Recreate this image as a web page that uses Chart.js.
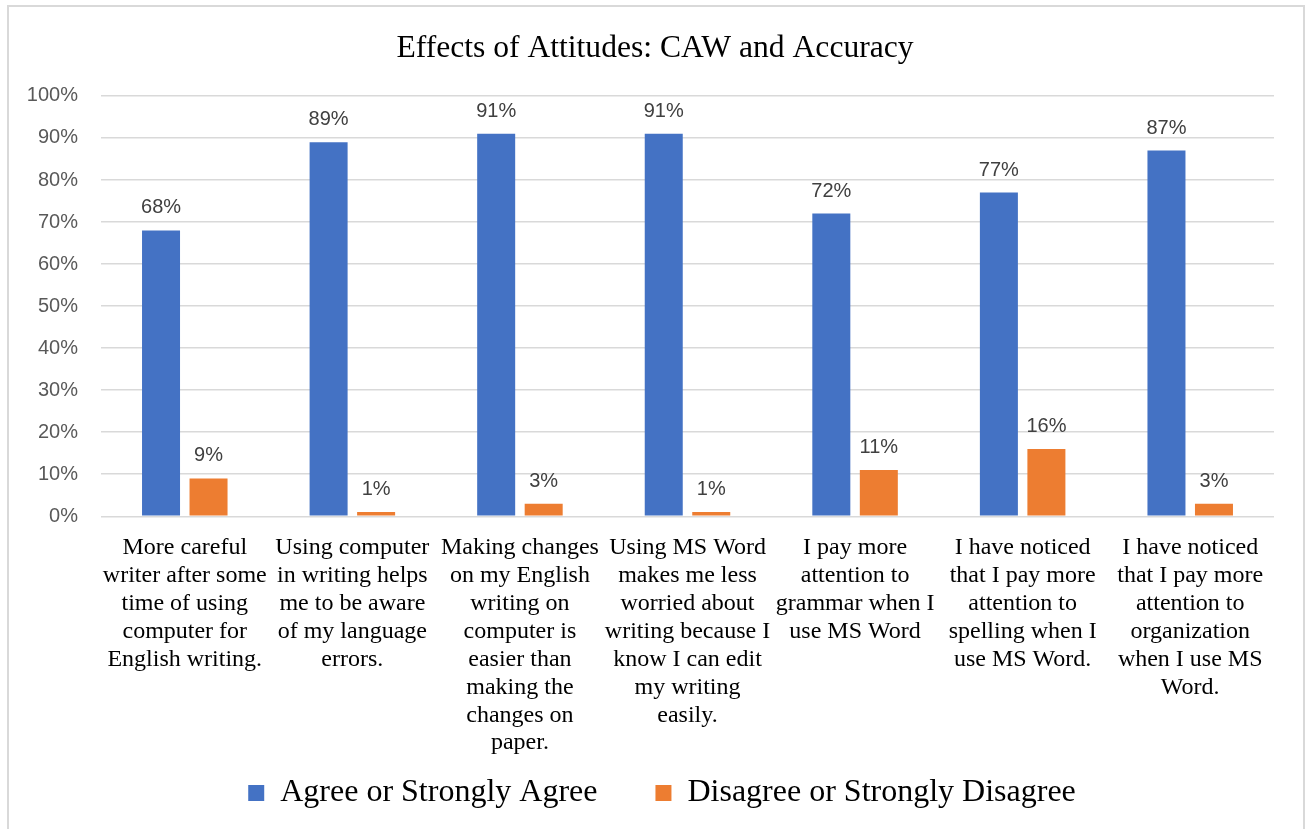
<!DOCTYPE html>
<html>
<head>
<meta charset="utf-8">
<script src="https://cdn.jsdelivr.net/npm/chart.js@4/dist/chart.umd.min.js"></script>
<style>
  html, body { margin: 0; padding: 0; background: #fff; }
  #wrap { position: absolute; left: 0; top: 0; width: 1306px; height: 829px; }
  #frame { position: absolute; left: 7px; top: 5px; width: 1294px; height: 830px;
           border: 2px solid #d9d9d9; pointer-events: none; }
</style>
</head>
<body>
<div id="wrap">
  <canvas id="attitudeChart" width="1306" height="829"></canvas>
  <div id="frame"></div>
</div>
<script>
// ---- data ----
const categories = [
  ['More careful', 'writer after some', 'time of using', 'computer for', 'English writing.'],
  ['Using computer', 'in writing helps', 'me to be aware', 'of my language', 'errors.'],
  ['Making changes', 'on my English', 'writing on', 'computer is', 'easier than', 'making the', 'changes on', 'paper.'],
  ['Using MS Word', 'makes me less', 'worried about', 'writing because I', 'know I can edit', 'my writing', 'easily.'],
  ['I pay more', 'attention to', 'grammar when I', 'use MS Word'],
  ['I have noticed', 'that I pay more', 'attention to', 'spelling when I', 'use MS Word.'],
  ['I have noticed', 'that I pay more', 'attention to', 'organization', 'when I use MS', 'Word.']
];
const agreeValues = [68, 89, 91, 91, 72, 77, 87];
const disagreeValues = [9, 1, 3, 1, 11, 16, 3];
const yTicks = [0, 10, 20, 30, 40, 50, 60, 70, 80, 90, 100];

const serif = '"Liberation Serif", "Times New Roman", serif';
const sans = '"Liberation Sans", Arial, sans-serif';

// percentage labels above each bar
const barLabels = {
  id: 'barLabels',
  afterDatasetsDraw(chart) {
    const ctx = chart.ctx;
    ctx.save();
    ctx.font = '20px ' + sans;
    ctx.fillStyle = '#404040';
    ctx.textAlign = 'center';
    ctx.textBaseline = 'alphabetic';
    chart.data.datasets.forEach((ds, i) => {
      chart.getDatasetMeta(i).data.forEach((bar, j) => {
        ctx.fillText(ds.data[j] + '%', bar.x, bar.y - 17);
      });
    });
    ctx.restore();
  }
};

// nudge title and legend a little to the right of the canvas centre
const nudgeBlocks = {
  id: 'nudgeBlocks',
  afterLayout(chart) {
    if (chart.titleBlock) {
      chart.titleBlock.left += 5;
      chart.titleBlock.right += 5;
    }
    if (chart.legend) {
      chart.legend.left += 12;
      chart.legend.right += 12;
    }
  }
};

new Chart(document.getElementById('attitudeChart'), {
  type: 'bar',
  data: {
    labels: categories,
    datasets: [
      {
        // trailing spaces widen the gap before the next legend entry
        label: 'Agree or Strongly Agree      ',
        data: agreeValues,
        backgroundColor: '#4472c4',
        categoryPercentage: 0.567,
        barPercentage: 0.8
      },
      {
        label: 'Disagree or Strongly Disagree',
        data: disagreeValues,
        backgroundColor: '#ed7d31',
        categoryPercentage: 0.567,
        barPercentage: 0.8
      }
    ]
  },
  options: {
    responsive: false,
    animation: false,
    layout: { padding: { left: 26, right: 32, top: 0, bottom: 10 } },
    plugins: {
      title: {
        display: true,
        text: 'Effects of Attitudes: CAW and Accuracy',
        color: '#000',
        font: { family: serif, size: 31.6, weight: 'normal', lineHeight: 1.2 },
        padding: { top: 30, bottom: 28 }
      },
      legend: {
        position: 'bottom',
        labels: {
          color: '#000',
          font: { family: serif, size: 32 },
          boxWidth: 16,
          boxHeight: 16,
          padding: 10
        }
      },
      tooltip: { enabled: false }
    },
    scales: {
      x: {
        grid: { display: false },
        border: { display: false },
        ticks: {
          color: '#000',
          font: { family: serif, size: 24, lineHeight: 1.16 },
          maxRotation: 0,
          autoSkip: false,
          padding: 10
        },
        afterFit(scale) {
          scale.paddingLeft = 0;
          scale.paddingRight = 0;
        }
      },
      y: {
        min: 0,
        max: 100,
        afterBuildTicks(axis) {
          axis.ticks = yTicks.map(v => ({ value: v }));
        },
        afterFit(axis) {
          axis.width = 75;
        },
        grid: { color: '#d9d9d9', lineWidth: 1.5, drawTicks: false },
        border: { display: false },
        ticks: {
          color: '#595959',
          font: { family: sans, size: 20 },
          padding: 23,
          callback: v => v + '%'
        }
      }
    }
  },
  plugins: [barLabels, nudgeBlocks]
});
</script>
</body>
</html>
